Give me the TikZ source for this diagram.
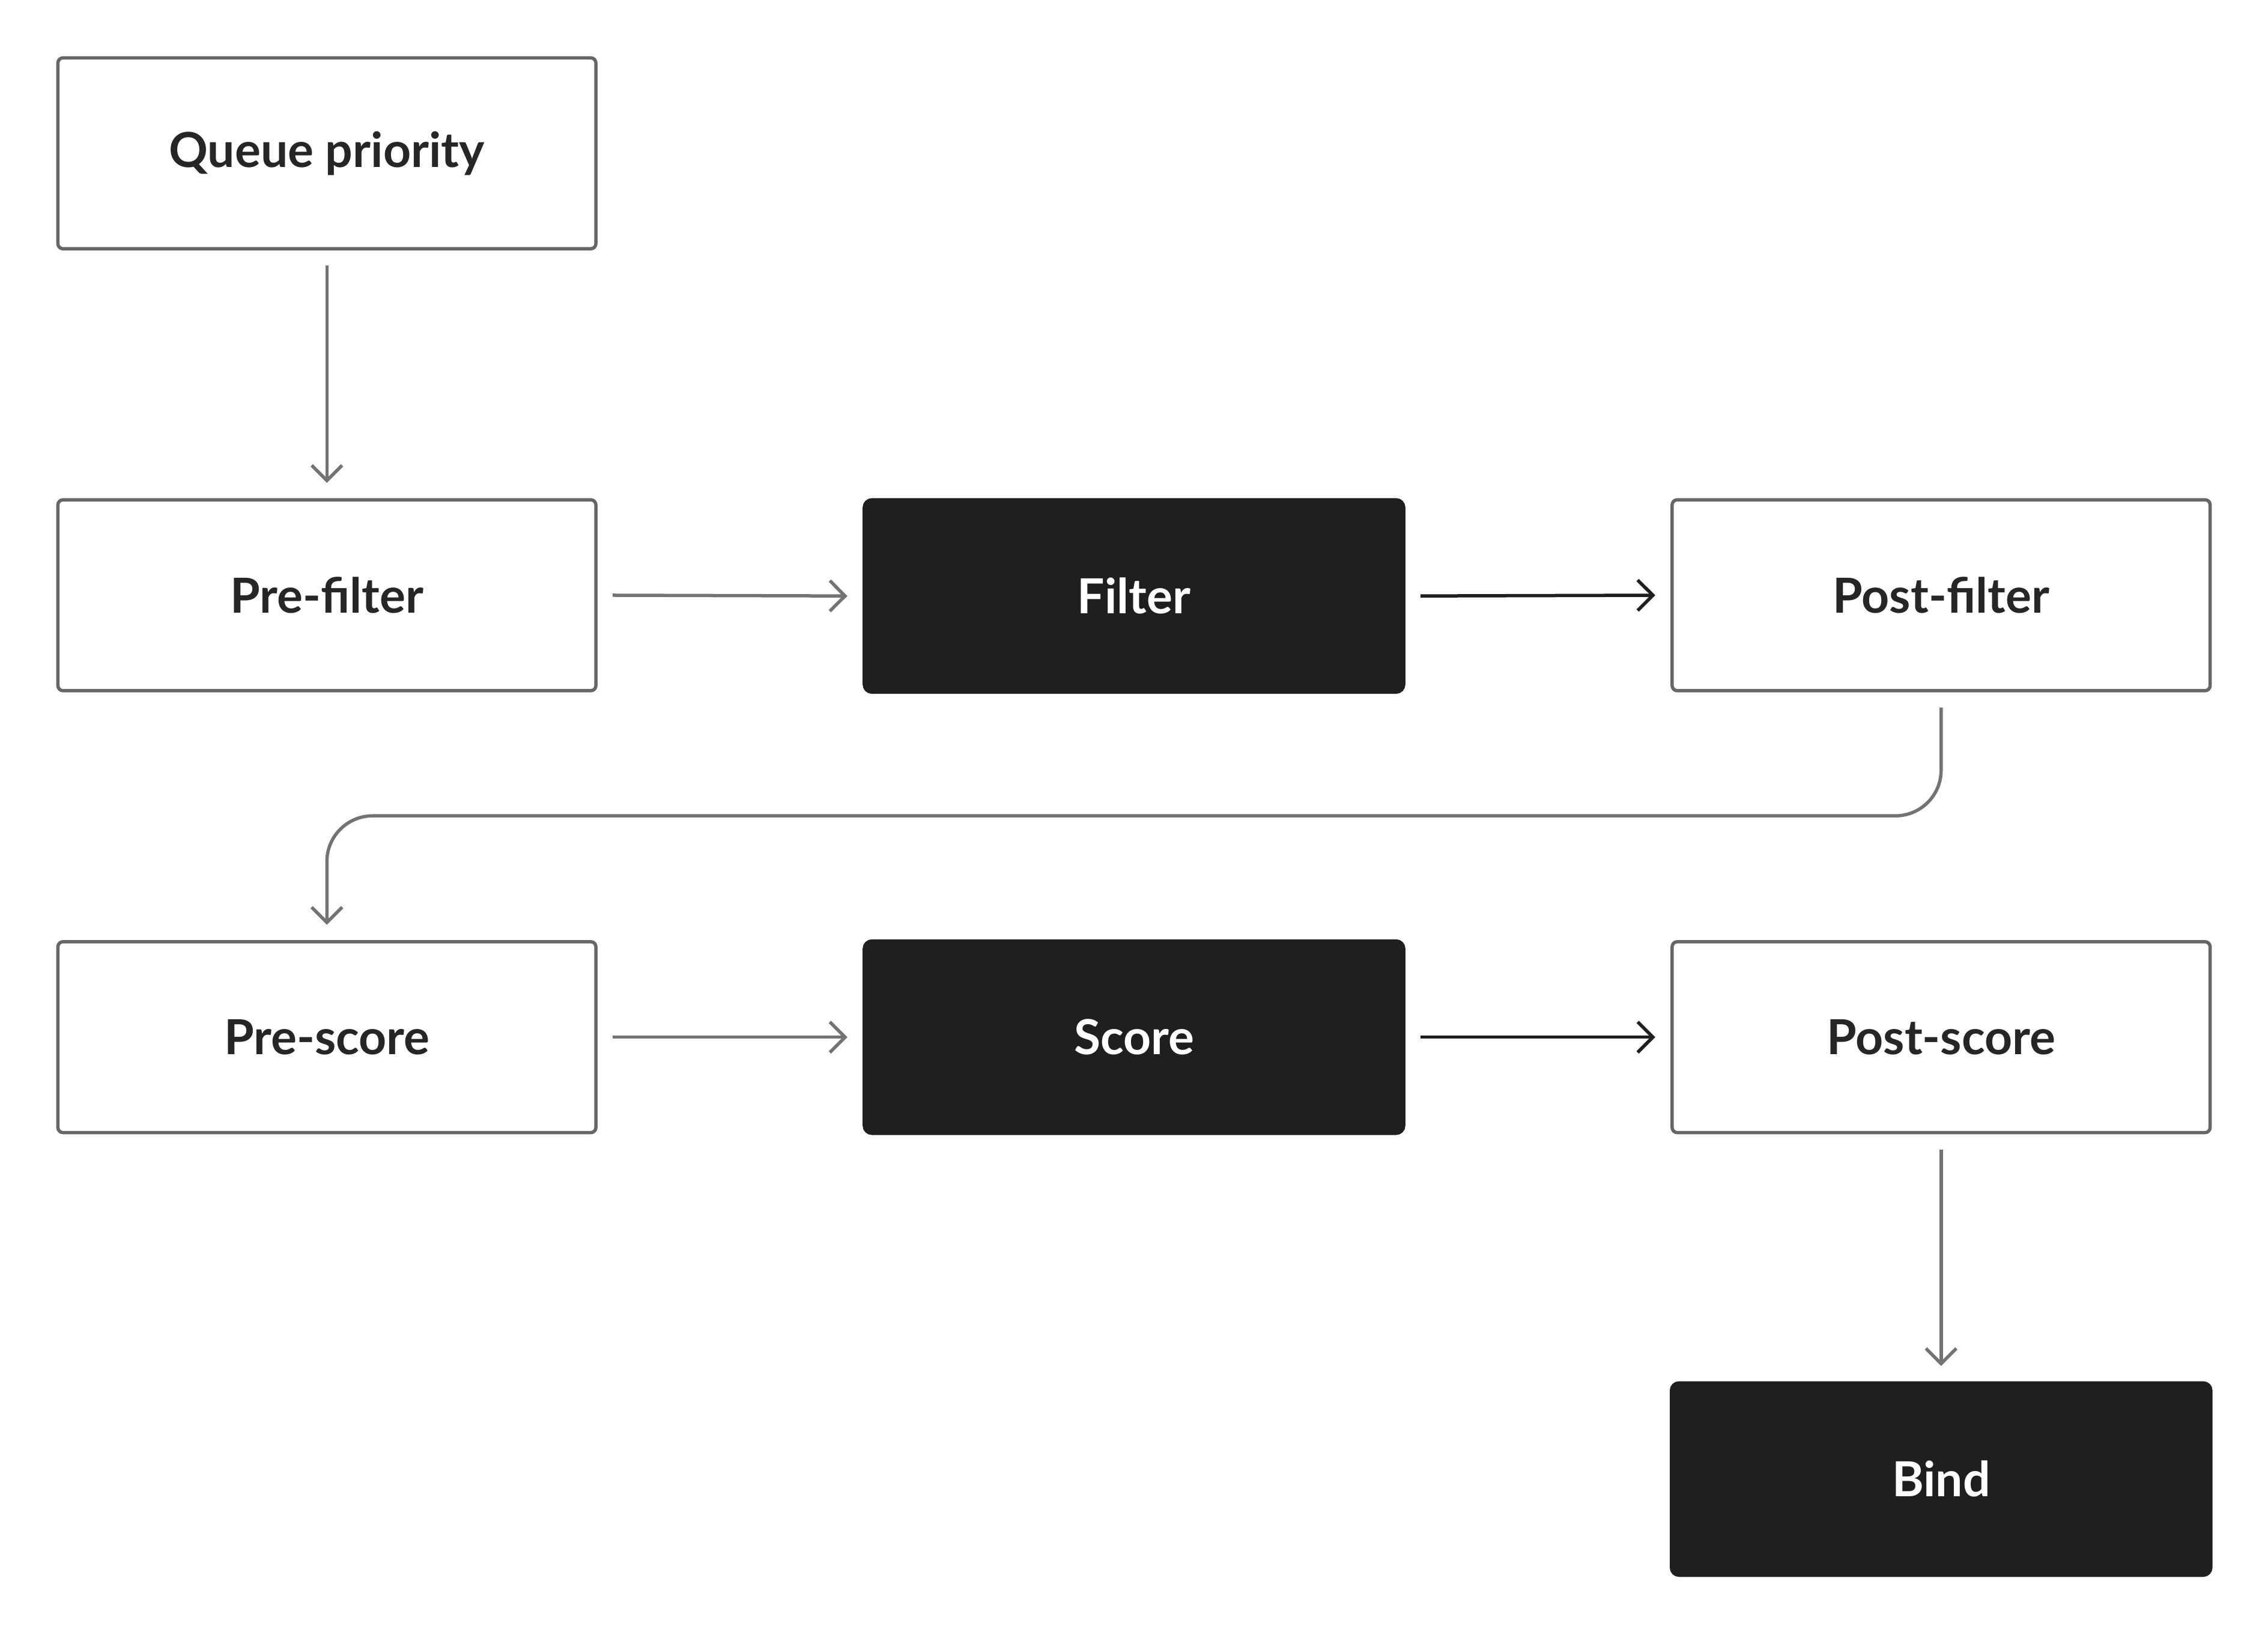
\documentclass[tikz,border=0pt]{standalone}
\usepackage{fontspec}
\setmainfont{Lato}
\usetikzlibrary{arrows.meta}
\begin{document}
\begin{tikzpicture}[x=0.02cm,y=-0.02cm,
  lightbox/.style={draw=black!60,line width=1.3pt,rounded corners=2pt,fill=white,minimum width=7.44cm,minimum height=2.64cm,inner sep=0pt,font=\fontsize{19}{22}\selectfont\bfseries,text=black!85},
  darkbox/.style={draw=black!88,fill=black!88,line width=1.3pt,rounded corners=3pt,minimum width=7.46cm,minimum height=2.66cm,inner sep=0pt,font=\fontsize{19}{22}\selectfont\bfseries,text=white},
  garrow/.style={draw=black!55,line width=1.3pt,-{Straight Barb[length=6pt,width=12pt]}},
  darrow/.style={draw=black!88,line width=1.3pt,-{Straight Barb[length=6pt,width=12pt]}}]
\useasboundingbox (0,0) rectangle (1568,1130);
\node[lightbox] (qp) at (226,106) {Queue priority};
\node[lightbox] (pf) at (226,411.5) {Pre-filter};
\node[darkbox] (f) at (784,412) {Filter};
\node[lightbox] (pof) at (1342,411.5) {Post-filter};
\node[lightbox] (ps) at (226,717) {Pre-score};
\node[darkbox] (s) at (784,717) {Score};
\node[lightbox] (pos) at (1342,717) {Post-score};
\node[darkbox] (b) at (1342,1022.5) {Bind};
\draw[garrow] ([yshift=-6]qp.south) -- ([yshift=6]pf.north);
\draw[garrow] ([xshift=6]pf.east) -- ([xshift=-6]f.west);
\draw[darrow] ([xshift=6]f.east) -- ([xshift=-6]pof.west);
\draw[garrow,rounded corners=18pt] ([yshift=-6]pof.south) |- (784,564) -| ([yshift=6]ps.north);
\draw[garrow] ([xshift=6]ps.east) -- ([xshift=-6]s.west);
\draw[darrow] ([xshift=6]s.east) -- ([xshift=-6]pos.west);
\draw[garrow] ([yshift=-6]pos.south) -- ([yshift=6]b.north);
\end{tikzpicture}
\end{document}
